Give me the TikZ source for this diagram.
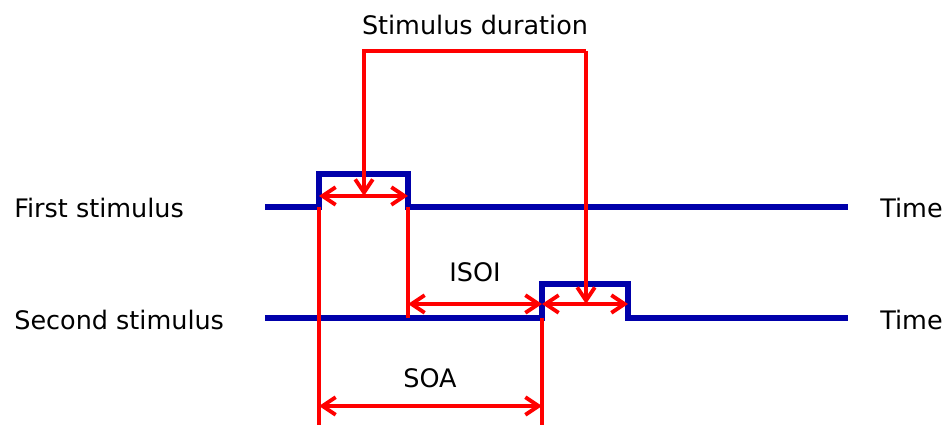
\documentclass[tikz,border=0pt]{standalone}
\usepackage{fontspec}
\setmainfont{DejaVu Sans}
\usetikzlibrary{arrows.meta,calc,positioning}
\definecolor{PulseBlue}{RGB}{0,0,170}
\definecolor{MarkRed}{RGB}{255,0,0}

\begin{document}
\begin{tikzpicture}[x=0.02cm,y=-0.02cm,>={Straight Barb[length=7.5pt,width=10pt]}]
\tikzstyle{signal}=[draw=PulseBlue,line width=3pt]
\tikzstyle{marker}=[draw=MarkRed,line width=2.2pt]
\tikzstyle{caption}=[font=\fontsize{14.5}{17}\selectfont,inner sep=0pt]
\useasboundingbox (0,0) rectangle (947,425);
\node[caption,anchor=west] (first) at (14,208) {First stimulus};
\node[caption,anchor=west] (second) at (14,320) {Second stimulus};
\node[caption,anchor=west] (timeA) at (880,208) {Time};
\node[caption,anchor=west] (timeB) at (880,320) {Time};
\node[caption] (duration) at (475,25) {Stimulus duration};
\node[caption] (isoi) at (475,272) {ISOI};
\node[caption] (soa) at (430,378) {SOA};
\coordinate (onA) at (319,207);
\coordinate (offA) at (408,207);
\coordinate (onB) at (542,318);
\coordinate (offB) at (628,318);
\draw[signal] (265,207) -- (onA) -- ++(0,-33) -| (offA) -- (848,207);
\draw[signal] (265,318) -- (onB) -- ++(0,-34) -| (offB) -- (848,318);
\draw[marker] (onA) -- (onA |- 0,425);
\draw[marker] (offA) -- (offA |- onB);
\draw[marker] (onB) -- (onB |- 0,425);
\draw[marker,<->] ($(onA)+(0,-11)$) -- ($(offA)+(0,-11)$);
\draw[marker,<->] ($(offA |- onB)+(0,-14)$) -- ($(onB)+(0,-14)$);
\draw[marker,<->] ($(onB)+(0,-14)$) -- ($(offB)+(0,-14)$);
\draw[marker,<->] (onA |- 0,406) -- (onB |- 0,406);
\draw[marker,->] (586,51) -- (364,51) -- (364,196);
\draw[marker,->] (586,51) -- (586,304);
\end{tikzpicture}
\end{document}
